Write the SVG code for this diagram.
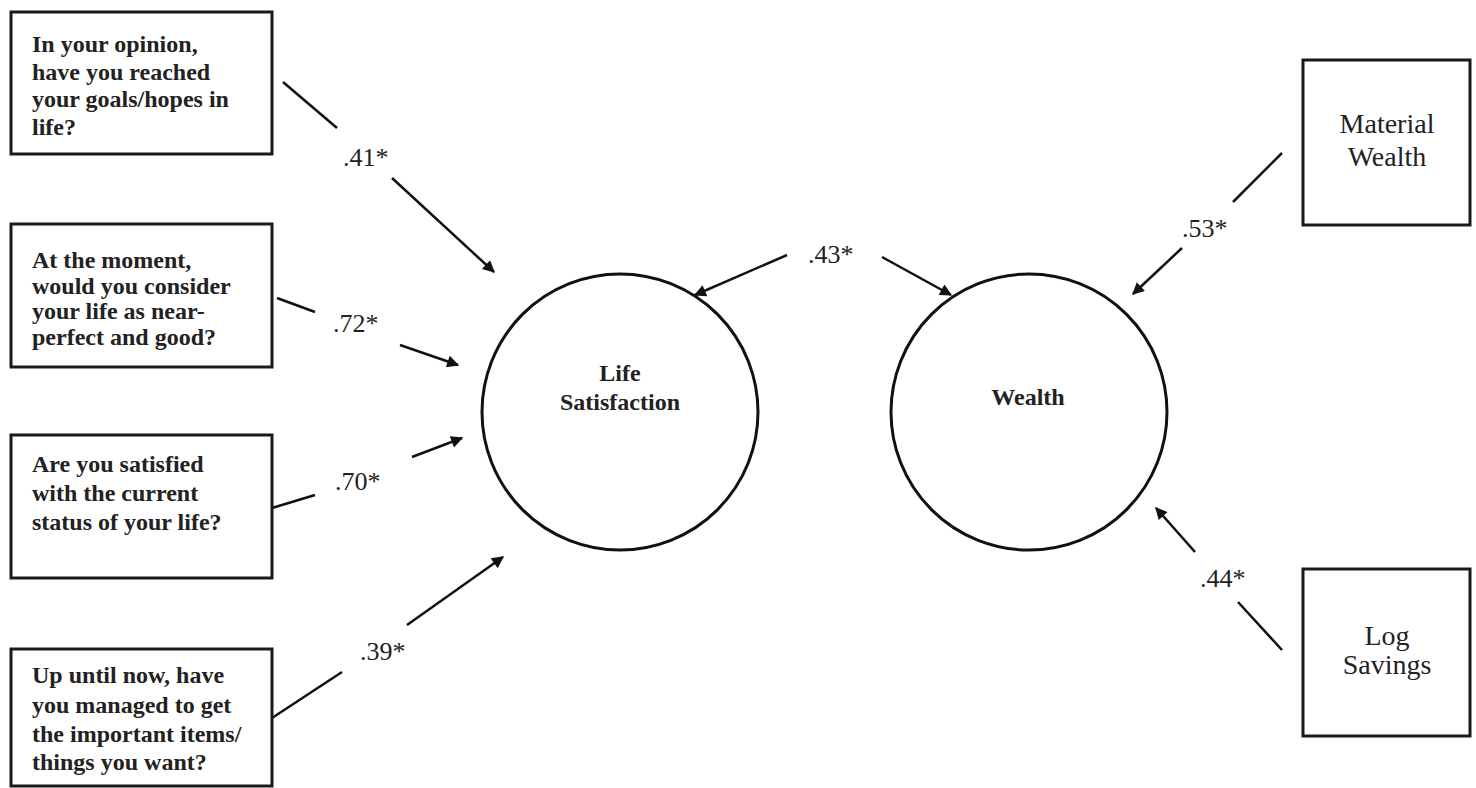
<svg xmlns="http://www.w3.org/2000/svg" width="1476" height="788" viewBox="0 0 1476 788">
<style>
.box{fill:#fff;stroke:#1a1a1a;stroke-width:3}
.circ{fill:#fff;stroke:#111;stroke-width:3}
.t{font-family:"Liberation Serif","Times New Roman",serif;font-size:24px;font-weight:bold;fill:#222}
.tc{font-family:"Liberation Serif","Times New Roman",serif;font-size:24px;font-weight:bold;fill:#222;text-anchor:middle}
.tr{font-family:"Liberation Serif","Times New Roman",serif;font-size:28px;fill:#222;text-anchor:middle}
.lbl{font-family:"Liberation Serif","Times New Roman",serif;font-size:26px;fill:#222}
.ln{stroke:#111;stroke-width:2.5;fill:none}
.ar{stroke:#111;stroke-width:2.5;fill:none;marker-end:url(#ah)}
</style>
<defs>
<marker id="ah" viewBox="0 0 10 10" refX="9" refY="5" markerWidth="16" markerHeight="12" markerUnits="userSpaceOnUse" orient="auto">
<path d="M0,0 L10,5 L0,10 z" fill="#111"/>
</marker>
</defs>
<rect width="1476" height="788" fill="#fff"/>

<g id="q1">
<rect class="box" x="11" y="12" width="261" height="142"/>
<text class="t" x="32" y="52">In your opinion,</text>
<text class="t" x="32" y="80">have you reached</text>
<text class="t" x="32" y="107">your goals/hopes in</text>
<text class="t" x="32" y="135">life?</text>
</g>
<g id="q2">
<rect class="box" x="11" y="224" width="261" height="143"/>
<text class="t" x="32" y="268">At the moment,</text>
<text class="t" x="32" y="294">would you consider</text>
<text class="t" x="32" y="319">your life as near-</text>
<text class="t" x="32" y="345">perfect and good?</text>
</g>
<g id="q3">
<rect class="box" x="11" y="435" width="261" height="143"/>
<text class="t" x="32" y="472">Are you satisfied</text>
<text class="t" x="32" y="501">with the current</text>
<text class="t" x="32" y="530">status of your life?</text>
</g>
<g id="q4">
<rect class="box" x="11" y="649" width="261" height="137"/>
<text class="t" x="32" y="683">Up until now, have</text>
<text class="t" x="32" y="713">you managed to get</text>
<text class="t" x="32" y="742">the important items/</text>
<text class="t" x="32" y="770">things you want?</text>
</g>

<g id="lifesat">
<circle class="circ" cx="620" cy="412" r="138"/>
<text class="tc" x="620" y="381">Life</text>
<text class="tc" x="620" y="410">Satisfaction</text>
</g>
<g id="wealth">
<circle class="circ" cx="1029" cy="412" r="138"/>
<text class="tc" x="1028" y="405">Wealth</text>
</g>

<g id="material">
<rect class="box" x="1303" y="60" width="167" height="165"/>
<text class="tr" x="1387" y="133">Material</text>
<text class="tr" x="1387" y="166">Wealth</text>
</g>
<g id="savings">
<rect class="box" x="1303" y="569" width="167" height="167"/>
<text class="tr" x="1387" y="645">Log</text>
<text class="tr" x="1387" y="674">Savings</text>
</g>

<g id="connectors">
<line class="ln" x1="283" y1="82" x2="337" y2="128"/>
<line class="ar" x1="392" y1="178" x2="494" y2="272"/>
<text class="lbl" x="343" y="166">.41*</text>

<line class="ln" x1="277" y1="298" x2="315" y2="312"/>
<line class="ar" x1="400" y1="345" x2="458" y2="365"/>
<text class="lbl" x="333" y="332">.72*</text>

<line class="ln" x1="272" y1="508" x2="315" y2="495"/>
<line class="ar" x1="412" y1="457" x2="462" y2="438"/>
<text class="lbl" x="335" y="490">.70*</text>

<line class="ln" x1="272" y1="718" x2="342" y2="672"/>
<line class="ar" x1="407" y1="625" x2="503" y2="557"/>
<text class="lbl" x="360" y="660">.39*</text>

<line class="ar" x1="787" y1="255" x2="695" y2="295"/>
<line class="ar" x1="882" y1="257" x2="951" y2="295"/>
<text class="lbl" x="808" y="263">.43*</text>

<line class="ln" x1="1282" y1="153" x2="1233" y2="202"/>
<line class="ar" x1="1182" y1="248" x2="1133" y2="294"/>
<text class="lbl" x="1182" y="237">.53*</text>

<line class="ln" x1="1282" y1="650" x2="1238" y2="602"/>
<line class="ar" x1="1195" y1="552" x2="1156" y2="508"/>
<text class="lbl" x="1200" y="587">.44*</text>
</g>
</svg>
